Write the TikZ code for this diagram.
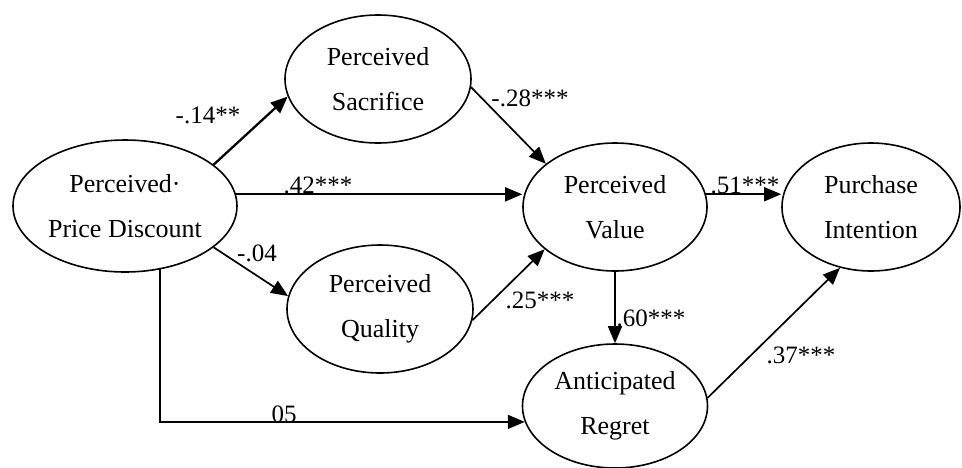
\documentclass[tikz,border=0pt]{standalone}
\usepackage{fontspec}
\setmainfont{Liberation Serif}
\usetikzlibrary{shapes.geometric,arrows.meta}

\begin{document}
\begin{tikzpicture}[x=1pt,y=-1pt,
    latent/.style={ellipse,draw,line width=1.6pt,inner sep=0pt,align=center,
      font=\fontsize{26}{45}\selectfont},
    path/.style={line width=1.7pt,-{Triangle[length=17pt,width=14pt]}},
    lab/.style={inner sep=0pt,font=\fontsize{25}{30}\selectfont}]
  \useasboundingbox (0,0) rectangle (962,467);

  % constructs
  \node[latent,minimum width=224pt,minimum height=132pt] (ppd) at (125,206) {Perceived·\\Price Discount};
  \node[latent,minimum width=186pt,minimum height=128pt] (ps) at (378,79) {Perceived\\Sacrifice};
  \node[latent,minimum width=186pt,minimum height=128pt] (pq) at (380,309) {Perceived\\Quality};
  \node[latent,minimum width=184pt,minimum height=128pt] (pv) at (615,207) {Perceived\\Value};
  \node[latent,minimum width=178pt,minimum height=128pt] (pi) at (871,207) {Purchase\\Intention};
  \node[latent,minimum width=185pt,minimum height=124pt] (ar) at (615,406) {Anticipated\\Regret};

  % paths
  \draw[path,line width=2.3pt] (ppd.25) -- (ps.191);
  \draw[path] (ppd.6) -- (ppd.6 -| pv.west);
  \draw[path] (ppd.-25) -- (pq.172);
  \draw[path] (ppd.-61) |- (ar.190);
  \draw[path] (ps.-5) -- (pv.148);
  \draw[path] (pq.-7) -- (pv.211);
  \draw[path] (pv.8) -- (pv.8 -| pi.west);
  \draw[path] (pv.south) -- (pv.south |- ar.north);
  \draw[path] (ar.5) -- (pi.243);

  % coefficients
  \foreach \nm/\x/\y/\txt in {l14/208/115/-.14**, l28/530/98/-.28***, l04/257/253/-.04,
      l25/540/300/.25***, l60/651/318/.60***, l37/801/355/.37***} {
    \node[lab] (\nm) at (\x,\y) {\txt};
  }
  \foreach \nm/\x/\y/\txt in {l42/318/193/.42***, l51/745/193/.51***, l05/284/422/05} {
    \node[lab,anchor=base] (\nm) at (\x,\y) {\txt};
  }
\end{tikzpicture}
\end{document}
